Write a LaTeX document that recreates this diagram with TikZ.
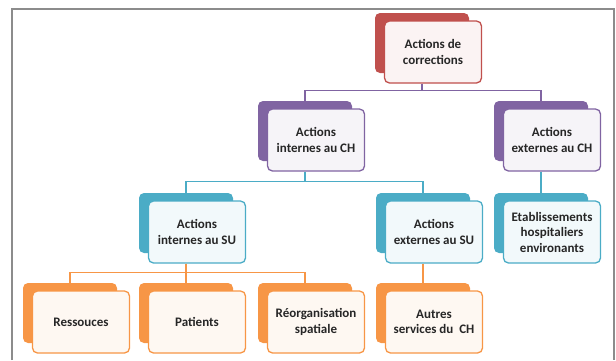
\documentclass[tikz,border=0pt]{standalone}
\usepackage{fontspec}
\setmainfont{Carlito}
\definecolor{redc}{HTML}{C0504D}
\definecolor{purplec}{HTML}{8064A2}
\definecolor{tealc}{HTML}{4BACC6}
\definecolor{orangec}{HTML}{F79646}
\definecolor{framec}{HTML}{8C8C8C}
\tikzset{
  back/.style={fill=#1, rounded corners=5pt, minimum width=94pt, minimum height=60pt, inner sep=0pt},
  box/.style={draw=#1, fill=#1!7!white, line width=1.3pt, rounded corners=5pt,
    minimum width=97pt, minimum height=62pt, inner sep=0pt, align=center,
    font=\fontsize{13}{15.5}\selectfont\bfseries, text=black!85},
  link/.style={draw=#1, line width=1.5pt}
}

\begin{document}
\begin{tikzpicture}[x=1pt,y=-1pt]
\useasboundingbox (0,0) rectangle (616,360);
\draw[framec, line width=1.5pt] (12,360) -- (12,9) -- (614,9) -- (614,360);

% back boxes
\node[back=redc] (rootb) at (422,43) {};
\node[back=purplec] (intchb) at (305,131) {};
\node[back=purplec] (extchb) at (541,131) {};
\node[back=tealc] (intsub) at (186,223) {};
\node[back=tealc] (extsub) at (423,223) {};
\node[back=tealc] (etabb) at (541,223) {};
\node[back=orangec] (ressb) at (70,313) {};
\node[back=orangec] (patb) at (186,313) {};
\node[back=orangec] (reorgb) at (305,313) {};
\node[back=orangec] (autresb) at (423,313) {};

% front boxes
\node[box=redc] (root) at (433,52) {Actions de\\corrections};
\node[box=purplec] (intch) at (316,140) {Actions\\internes au CH};
\node[box=purplec] (extch) at (552,140) {Actions\\externes au CH};
\node[box=tealc] (intsu) at (197,232) {Actions\\internes au SU};
\node[box=tealc] (extsu) at (434,232) {Actions\\externes au SU};
\node[box=tealc] (etab) at (552,232) {Etablissements\\hospitaliers\\environants};
\node[box=orangec] (ress) at (81,322) {Ressouces};
\node[box=orangec] (pat) at (197,322) {Patients};
\node[box=orangec] (reorg) at (316,322) {Réorganisation\\spatiale};
\node[box=orangec] (autres) at (434,322) {Autres\\services du\ \ CH};

% links
\path[link=purplec] (rootb |- root.south) -- ++(0,7) -| (intchb.north);
\path[link=purplec] (rootb |- root.south) -- ++(0,7) -| (extchb.north);
\path[link=tealc] (intchb |- intch.south) -- ++(0,10) -| (intsub.north);
\path[link=tealc] (intchb |- intch.south) -- ++(0,10) -| (extsub.north);
\path[link=tealc] (extchb |- extch.south) -- ++(0,10) -| (etabb.north);
\path[link=orangec] (intsub |- intsu.south) -- ++(0,9) -| (ressb.north);
\path[link=orangec] (intsub |- intsu.south) -- ++(0,9) -| (patb.north);
\path[link=orangec] (intsub |- intsu.south) -- ++(0,9) -| (reorgb.north);
\path[link=orangec] (extsub |- extsu.south) -- ++(0,9) -| (autresb.north);
\end{tikzpicture}
\end{document}
